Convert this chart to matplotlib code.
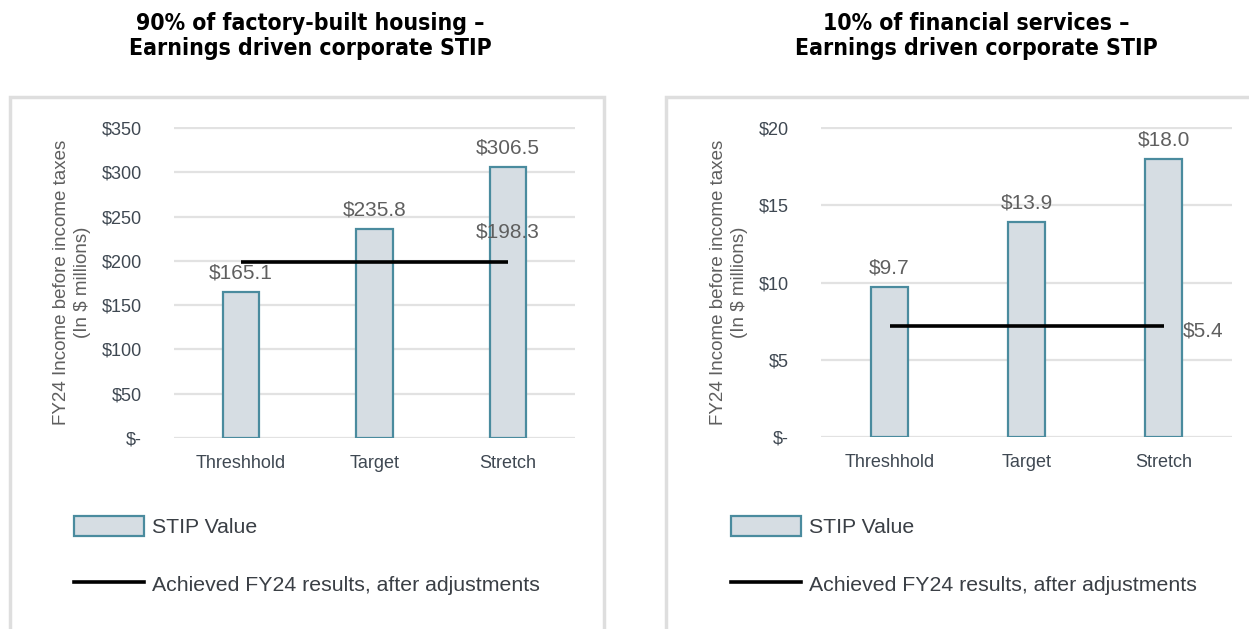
import matplotlib
matplotlib.use('Agg')
import matplotlib.pyplot as plt
from matplotlib.patches import Rectangle, Patch
from matplotlib.lines import Line2D

# Data
CATEGORIES = ['Threshhold', 'Target', 'Stretch']
HOUSING_STIP = [165.1, 235.8, 306.5]
HOUSING_ACHIEVED = 198.3
FINSERV_STIP = [9.7, 13.9, 18.0]
FINSERV_ACHIEVED_LINE = 7.2     # where the line sits in the source chart
FINSERV_ACHIEVED_LABEL = 5.4    # value printed next to it

HOUSING_TICKS = [0, 50, 100, 150, 200, 250, 300, 350]
FINSERV_TICKS = [0, 5, 10, 15, 20]

TITLES = ['90% of factory-built housing –\nEarnings driven corporate STIP',
          '10% of financial services –\nEarnings driven corporate STIP']
YLABEL = 'FY24 Income before income taxes\n(In $ millions)'
LEGEND_LABELS = ['STIP Value', 'Achieved FY24 results, after adjustments']

# Style
W, H = 1249, 629
BAR_FILL = '#d6dde3'
BAR_EDGE = '#4a8b9e'
GRID = '#e2e2e2'
FRAME = '#dedede'
TICK_COLOR = '#3f4852'
LABEL_COLOR = '#5f5f5f'
FONT = ['Liberation Sans', 'DejaVu Sans']

plt.rcParams['font.family'] = FONT


def money(v):
    return '$-' if v == 0 else f'${v:g}'


def fx(px):
    return px / W


def fy(px):
    return 1 - px / H


fig = plt.figure(figsize=(W / 100, H / 100), dpi=100)
fig.patch.set_facecolor('white')

# Panel frames
fig.patches.append(Rectangle((fx(10), -0.05), fx(594), fy(97) + 0.05,
                             transform=fig.transFigure, fill=False,
                             edgecolor=FRAME, linewidth=2.5, zorder=0))
fig.patches.append(Rectangle((fx(666), -0.05), fx(620), fy(97) + 0.05,
                             transform=fig.transFigure, fill=False,
                             edgecolor=FRAME, linewidth=2.5, zorder=0))

panels = [
    dict(rect=[fx(174), fy(438), fx(401), (438 - 127) / H], stip=HOUSING_STIP,
         line=HOUSING_ACHIEVED, line_label=HOUSING_ACHIEVED, ticks=HOUSING_TICKS,
         ylab_x=-0.254, title_x=fx(310), legend_x=fx(74), label_side='above'),
    dict(rect=[fx(821), fy(437), fx(411), (437 - 127) / H], stip=FINSERV_STIP,
         line=FINSERV_ACHIEVED_LINE, line_label=FINSERV_ACHIEVED_LABEL,
         ticks=FINSERV_TICKS, ylab_x=-0.224, title_x=fx(976), legend_x=fx(731),
         label_side='right'),
]

for i, p in enumerate(panels):
    ax = fig.add_axes(p['rect'])
    x = range(len(CATEGORIES))
    bars = ax.bar(x, p['stip'], width=0.27, color=BAR_FILL, edgecolor=BAR_EDGE,
                  linewidth=1.6, zorder=2)
    ax.plot([0, len(CATEGORIES) - 1], [p['line'], p['line']], color='black',
            linewidth=2.6, solid_capstyle='butt', zorder=3)

    for b, v in zip(bars, p['stip']):
        ax.annotate(f'${v:.1f}', (b.get_x() + b.get_width() / 2, v),
                    xytext=(0, 7), textcoords='offset points', ha='center',
                    va='bottom', fontsize=15, color=LABEL_COLOR, zorder=4)

    if p['label_side'] == 'above':
        ax.annotate(f"${p['line_label']:.1f}", (len(CATEGORIES) - 1, p['line']),
                    xytext=(0, 15), textcoords='offset points', ha='center',
                    va='bottom', fontsize=15, color=LABEL_COLOR, zorder=4)
    else:
        ax.annotate(f"${p['line_label']:.1f}", (len(CATEGORIES) - 1, p['line']),
                    xytext=(14, -3.5), textcoords='offset points', ha='left',
                    va='center', fontsize=15, color=LABEL_COLOR, zorder=4)

    ax.set_xlim(-0.5, len(CATEGORIES) - 0.5)
    ax.set_ylim(0, p['ticks'][-1] * 1.004)
    ax.set_yticks(p['ticks'])
    ax.set_yticklabels([money(t) for t in p['ticks']])
    ax.set_xticks(list(x))
    ax.set_xticklabels(CATEGORIES)
    ax.tick_params(axis='y', length=0, pad=23, labelsize=13, labelcolor=TICK_COLOR)
    ax.tick_params(axis='x', length=0, pad=12, labelsize=13, labelcolor=TICK_COLOR)
    ax.yaxis.grid(True, color=GRID, linewidth=1.6, zorder=0)
    ax.set_axisbelow(True)
    for s in ax.spines.values():
        s.set_visible(False)

    ax.set_ylabel(YLABEL, fontsize=13.5, color=LABEL_COLOR, va='center',
                  linespacing=1.35)
    ax.yaxis.set_label_coords(p['ylab_x'], 0.5)

    fig.text(p['title_x'], fy(36), TITLES[i], ha='center', va='center',
             fontsize=16.5, fontweight='bold', family='DejaVu Sans',
             fontstretch='condensed', linespacing=1.15)

    handles = [Patch(facecolor=BAR_FILL, edgecolor=BAR_EDGE, linewidth=1.6),
               Line2D([], [], color='black', linewidth=2.6)]
    ax.legend(handles, LEGEND_LABELS, loc='upper left',
              bbox_to_anchor=(p['legend_x'], fy(516)), bbox_transform=fig.transFigure,
              frameon=False, fontsize=15.3, handlelength=3.3, handleheight=1.1,
              handletextpad=0.35, labelspacing=1.7, borderpad=0, borderaxespad=0,
              labelcolor='#3a3f45')

fig.savefig('out.png', dpi=100, facecolor='white')
